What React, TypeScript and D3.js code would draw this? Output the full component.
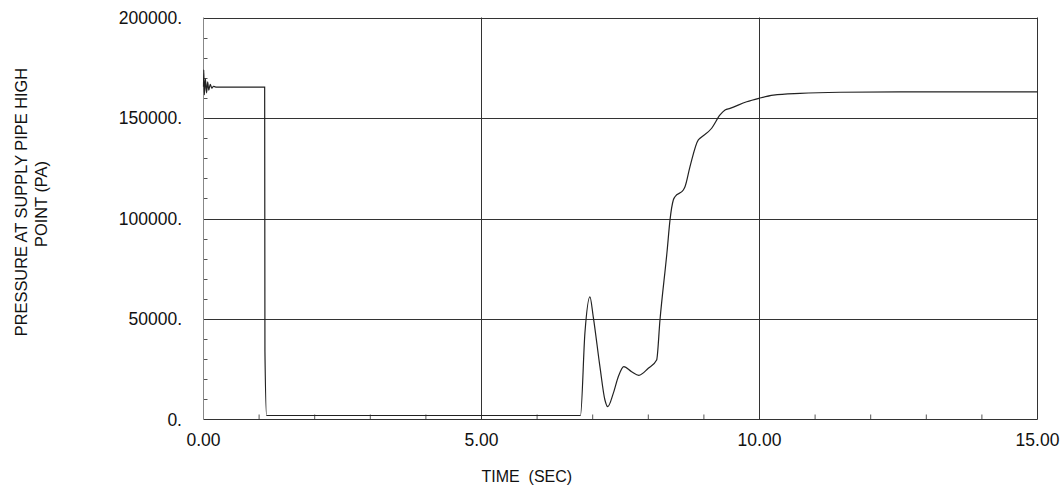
import React from "react";
import * as d3 from "d3";

const timeSec: number[] = [
  0, 0.005, 0.015, 0.035, 0.055, 0.075, 0.095, 0.12, 0.15, 0.18, 0.22,
  1.1, 1.105, 1.135, 6.78, 6.86, 6.95, 7.01, 7.13, 7.22, 7.27, 7.37, 7.46,
  7.56, 7.7, 7.83, 8.0, 8.15, 8.21, 8.34, 8.39, 8.45, 8.48, 8.63, 8.66,
  8.75, 8.9, 8.93, 9.14, 9.29, 9.38, 9.47, 9.77, 9.99, 10.25, 10.73, 11.45,
  13.0, 15.0,
];
const pressurePa: number[] = [
  165500, 174000, 161500, 169500, 162500, 168000, 163800, 166800, 164800,
  165800, 165400, 165400, 34000, 2000, 2000, 43000, 61000, 51100, 26300,
  9700, 6400, 13000, 21300, 26300, 23800, 22000, 25500, 29600, 49500, 84300,
  99200, 109200, 110800, 114200, 115800, 125800, 139100, 139900, 144900,
  151500, 154000, 154800, 158100, 159800, 161400, 162300, 162800, 163000,
  163000,
];

const xTickValues: number[] = [0, 5, 10, 15];
const xTickLabels: string[] = ["0.00", "5.00", "10.00", "15.00"];
const yTickValues: number[] = [0, 50000, 100000, 150000, 200000];
const yTickLabels: string[] = ["0.", "50000.", "100000.", "150000.", "200000."];
const xMinorTicks: number[] = d3.range(1, 15);
const yMinorTicks: number[] = d3.range(10000, 200000, 10000);

const xTitle = "TIME  (SEC)";
const yTitle1 = "PRESSURE AT SUPPLY PIPE HIGH";
const yTitle2 = "POINT (PA)";

export default function App() {
  const W = 1064;
  const H = 489;
  const x = d3.scaleLinear().domain([0, 15]).range([203.5, 1037.5]);
  const y = d3.scaleLinear().domain([0, 200000]).range([419.5, 17.5]);
  const data = timeSec.map((t, i) => [t, pressurePa[i]] as [number, number]);
  const line = d3
    .line<[number, number]>()
    .x((d) => x(d[0]))
    .y((d) => y(d[1]))
    .curve(d3.curveMonotoneX);
  const font = "'Liberation Sans', Arial, sans-serif";
  const gridColor = "#333";
  return (
    <svg
      width={W}
      height={H}
      style={{ position: "absolute", left: 0, top: 0, background: "#fff" }}
      fontFamily={font}
    >
      <rect x={0} y={0} width={W} height={H} fill="#fff" />
      {/* horizontal grid + top frame */}
      {yTickValues.slice(1).map((v) => (
        <line
          key={"hg" + v}
          x1={x(0)}
          x2={x(15)}
          y1={Math.round(y(v)) + 0.5}
          y2={Math.round(y(v)) + 0.5}
          stroke={gridColor}
          strokeWidth={1}
        />
      ))}
      {/* vertical grid + right frame */}
      {xTickValues.slice(1).map((v) => (
        <line
          key={"vg" + v}
          x1={x(v)}
          x2={x(v)}
          y1={y(0)}
          y2={y(200000)}
          stroke={gridColor}
          strokeWidth={1}
        />
      ))}
      {/* minor ticks */}
      {xMinorTicks
        .filter((v) => v % 5 !== 0)
        .map((v) => (
          <line
            key={"xm" + v}
            x1={x(v)}
            x2={x(v)}
            y1={y(0)}
            y2={y(0) - 5}
            stroke="#555"
          />
        ))}
      {yMinorTicks
        .filter((v) => v % 50000 !== 0)
        .map((v) => (
          <line
            key={"ym" + v}
            x1={x(0)}
            x2={x(0) + 4}
            y1={Math.round(y(v)) + 0.5}
            y2={Math.round(y(v)) + 0.5}
            stroke="#555"
          />
        ))}
      {/* axes */}
      <line x1={x(0)} x2={x(15)} y1={y(0)} y2={y(0)} stroke={gridColor} />
      <line x1={x(0)} x2={x(0)} y1={y(0)} y2={y(200000)} stroke="#888" />
      {/* data line */}
      <path d={line(data) || ""} fill="none" stroke="#222" strokeWidth={1.2} />
      {/* y tick labels */}
      {yTickValues.map((v, i) => (
        <text
          key={"yl" + v}
          x={182}
          y={y(v) + 6}
          textAnchor="end"
          fontSize={17.5}
          fill="#111"
        >
          {yTickLabels[i]}
        </text>
      ))}
      {/* x tick labels */}
      {xTickValues.map((v, i) => (
        <text
          key={"xl" + v}
          x={x(v)}
          y={446}
          textAnchor="middle"
          fontSize={17.5}
          fill="#111"
        >
          {xTickLabels[i]}
        </text>
      ))}
      <text
        x={481.5}
        y={481.5}
        fontSize={16}
        fill="#111"
        style={{ whiteSpace: "pre" }}
      >
        {xTitle}
      </text>
      <text
        transform="translate(27,202) rotate(-90)"
        textAnchor="middle"
        fontSize={16.4}
        fill="#111"
      >
        {yTitle1}
      </text>
      <text
        transform="translate(47,204) rotate(-90)"
        textAnchor="middle"
        fontSize={16.4}
        fill="#111"
      >
        {yTitle2}
      </text>
    </svg>
  );
}
